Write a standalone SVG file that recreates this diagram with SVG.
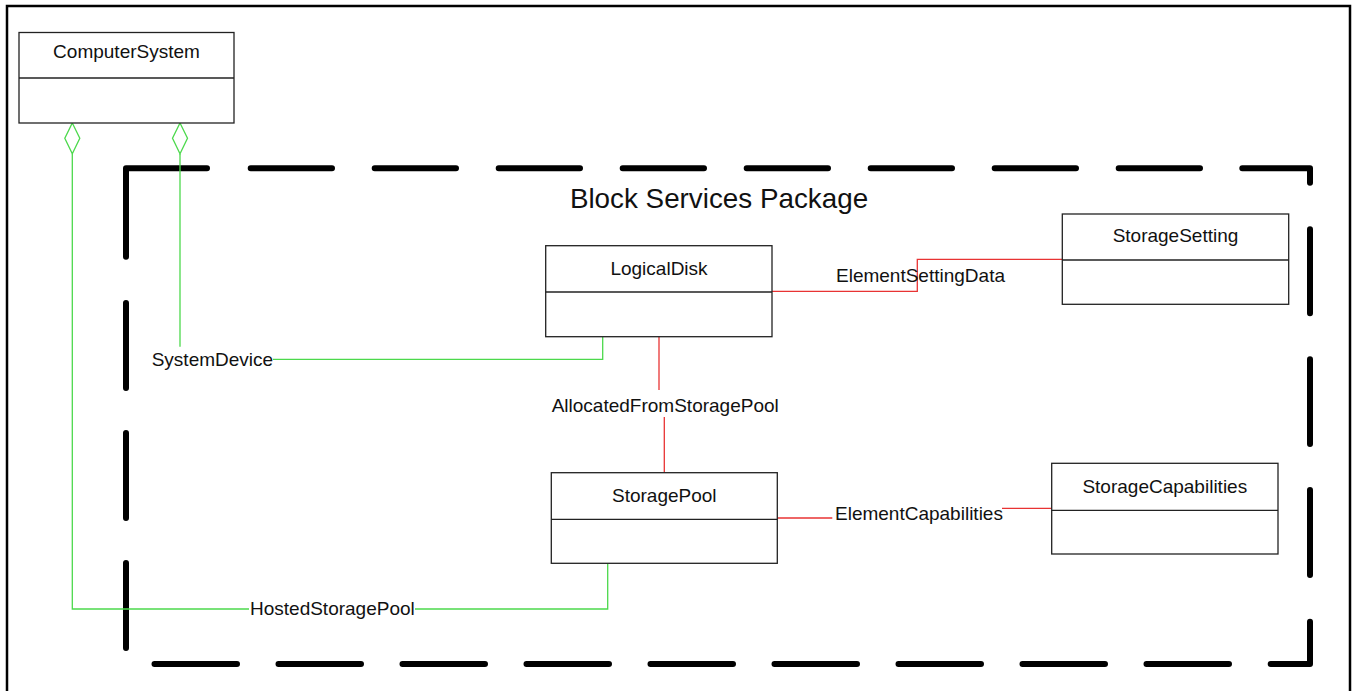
<svg xmlns="http://www.w3.org/2000/svg" width="1353" height="691" viewBox="0 0 1353 691">
<style>
  .box { fill: #ffffff; stroke: #222222; stroke-width: 1.3; }
  .div { stroke: #222222; stroke-width: 1.3; fill: none; }
  .title { font-family: "Liberation Sans", Arial, sans-serif; font-size: 19px; fill: #111111; text-anchor: middle; }
  .lbl { font-family: "Liberation Sans", Arial, sans-serif; font-size: 19px; fill: #111111; }
  .pkgtitle { font-family: "Liberation Sans", Arial, sans-serif; font-size: 27.8px; fill: #111111; text-anchor: middle; }
  .green { stroke: #4cd94c; stroke-width: 1.3; fill: none; }
  .red { stroke: #e83333; stroke-width: 1.3; fill: none; }
  .diamond { fill: #ffffff; stroke: #4cd94c; stroke-width: 1.3; }
  .pkg { stroke: #000000; stroke-width: 6; stroke-linecap: round; stroke-linejoin: round; fill: none; }
  .frame { fill: none; stroke: #000000; stroke-width: 2.5; }
</style>
<rect x="0" y="0" width="1353" height="691" fill="#ffffff"/>
<rect class="frame" x="7" y="6" width="1343" height="700"/>

<g id="package">
  <path class="pkg" d="M126,256.7 V168.3 H207
    M250.7,168.3 H332 M374.7,168.3 H456 M498.7,168.3 H580 M622.7,168.3 H704 M746.7,168.3 H828 M870.7,168.3 H952 M994.7,168.3 H1076 M1118.7,168.3 H1200
    M1242.3,168.3 H1310 V182.7
    M1310,229.3 V313.3 M1310,359.3 V444 M1310,490 V575
    M1310,621.7 V664 H1270.7
    M154.5,664 H237 M278.5,664 H361 M402.5,664 H485 M526.5,664 H609 M650.5,664 H733 M774.5,664 H857 M898.5,664 H981 M1022.5,664 H1105 M1146.5,664 H1229
    M126,303 V388 M126,433 V518 M126,563 V648"/>
  <text class="pkgtitle" x="719" y="208">Block Services Package</text>
</g>

<g id="connectors">
  <g id="hostedStoragePool">
    <polyline class="green" points="72.3,153.7 72.3,609 249,609"/>
    <polyline class="green" points="415,609 607.7,609 607.7,563.3"/>
    <polygon class="diamond" points="72.3,123 79.8,138.3 72.3,153.7 64.8,138.3"/>
    <text class="lbl" x="250" y="614.7">HostedStoragePool</text>
  </g>
  <g id="systemDevice">
    <polyline class="green" points="180,153.7 180,346.7"/>
    <polyline class="green" points="273,359.3 602.7,359.3 602.7,336.7"/>
    <polygon class="diamond" points="180,123 187.5,138.3 180,153.7 172.5,138.3"/>
    <text class="lbl" x="151.7" y="366">SystemDevice</text>
  </g>
  <g id="allocatedFromStoragePool">
    <line class="red" x1="659" y1="336.7" x2="659" y2="390"/>
    <line class="red" x1="664.3" y1="417" x2="664.3" y2="472.7"/>
    <text class="lbl" x="551.7" y="411.7">AllocatedFromStoragePool</text>
  </g>
  <g id="elementSettingData">
    <polyline class="red" points="772,291.3 917.3,291.3 917.3,259.3 1062.3,259.3"/>
    <text class="lbl" x="836" y="282">ElementSettingData</text>
  </g>
  <g id="elementCapabilities">
    <line class="red" x1="777.3" y1="518" x2="832.3" y2="518"/>
    <line class="red" x1="1002" y1="508.3" x2="1051.7" y2="508.3"/>
    <text class="lbl" x="835" y="520">ElementCapabilities</text>
  </g>
</g>

<g id="ComputerSystem">
  <rect class="box" x="19" y="32.5" width="215" height="90.5"/>
  <line class="div" x1="19" y1="78" x2="234" y2="78"/>
  <text class="title" x="126.5" y="58">ComputerSystem</text>
</g>
<g id="LogicalDisk">
  <rect class="box" x="545.7" y="245.7" width="226.3" height="91"/>
  <line class="div" x1="545.7" y1="292" x2="772" y2="292"/>
  <text class="title" x="659" y="275">LogicalDisk</text>
</g>
<g id="StorageSetting">
  <rect class="box" x="1062.3" y="214" width="226.4" height="90.3"/>
  <line class="div" x1="1062.3" y1="260" x2="1288.7" y2="260"/>
  <text class="title" x="1175.5" y="242">StorageSetting</text>
</g>
<g id="StoragePool">
  <rect class="box" x="551.3" y="472.7" width="226" height="90.6"/>
  <line class="div" x1="551.3" y1="519.3" x2="777.3" y2="519.3"/>
  <text class="title" x="664.3" y="502">StoragePool</text>
</g>
<g id="StorageCapabilities">
  <rect class="box" x="1051.7" y="463.3" width="226.3" height="90.7"/>
  <line class="div" x1="1051.7" y1="510.3" x2="1278" y2="510.3"/>
  <text class="title" x="1164.8" y="493">StorageCapabilities</text>
</g>
</svg>
